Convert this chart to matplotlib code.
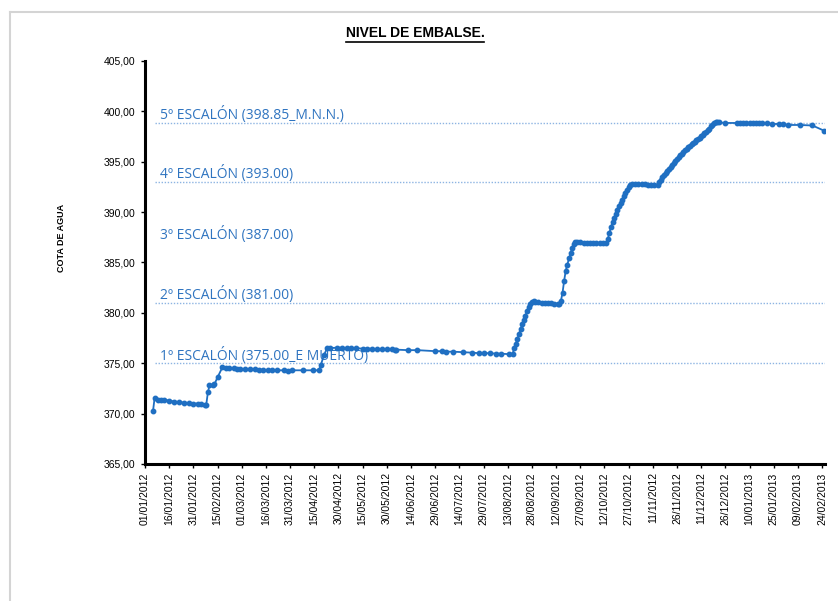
import matplotlib
matplotlib.use("Agg")
import matplotlib.pyplot as plt
from matplotlib.lines import Line2D
import datetime as dt

# ---- data ----
start_date = "2012-01-01"
day_offsets = [
    5, 6, 8, 10, 12, 15, 18, 21, 24, 27, 30, 33, 35, 37, 38,
    39, 40, 42, 43, 45, 48, 50, 52, 55, 57, 59, 62, 65, 68, 71, 73, 76, 79, 82, 86, 89, 91, 98, 104, 108,
    109, 111, 113, 115, 119, 122, 125, 128, 131, 135, 138, 141, 144, 147, 150, 153, 155, 156, 163, 169,
    180, 184, 187, 191, 197, 203, 207, 210, 214, 218, 221, 226, 228,
    229, 230, 231, 232, 233, 234, 235, 236, 237, 238, 239, 240, 241,
    242, 244, 246, 248, 250, 252, 254, 256, 257,
    258, 259, 260, 261, 262, 263, 264, 265, 266, 267,
    268, 270, 272, 274, 276, 278, 280, 282, 284, 286,
    287, 288, 289, 290, 291, 292, 293, 294, 295, 296, 297, 298, 299, 300, 301,
    302, 304, 306, 308, 310, 312, 314, 316, 318,
    319, 320, 321, 322, 323, 324, 325, 326, 327, 328, 329, 330, 331, 332, 333, 334, 335, 336,
    337, 338, 339, 340, 341, 342, 343, 344, 345, 346, 347, 348, 349, 350, 351, 352, 353, 354,
    355, 356, 360, 367, 369, 371, 373, 375, 377, 379, 381, 383, 386, 389, 393, 396, 399, 406, 414, 421,
]
levels = [
    370.3, 371.6, 371.4, 371.4, 371.35, 371.3, 371.2, 371.15, 371.1, 371.05, 371.0, 371.0, 370.95, 370.9, 370.9,
    372.1, 372.8, 372.8, 372.9, 373.6, 374.6, 374.55, 374.5, 374.5, 374.45, 374.45, 374.4, 374.4, 374.4, 374.35,
    374.35, 374.3, 374.3, 374.3, 374.3, 374.25, 374.3, 374.3, 374.3, 374.3,
    374.8, 375.8, 376.5, 376.5, 376.55, 376.55, 376.5, 376.5, 376.5, 376.45, 376.45, 376.45, 376.4, 376.4,
    376.4, 376.4, 376.35, 376.35, 376.3, 376.3,
    376.2, 376.2, 376.15, 376.15, 376.1, 376.05, 376.0, 376.0, 376.0, 375.95, 375.95, 375.9, 375.9,
    376.5, 376.9, 377.4, 377.9, 378.4, 378.9, 379.3, 379.7, 380.2, 380.6, 380.9, 381.1, 381.15,
    381.1, 381.05, 381.0, 381.0, 380.95, 380.95, 380.9, 380.9, 380.9,
    381.2, 382.0, 383.2, 384.2, 384.8, 385.4, 385.9, 386.4, 386.8, 387.0,
    387.0, 387.0, 386.95, 386.95, 386.95, 386.9, 386.9, 386.9, 386.9, 386.9,
    387.3, 387.9, 388.5, 389.0, 389.4, 389.8, 390.2, 390.6, 390.9, 391.2, 391.6, 391.9, 392.2, 392.5, 392.7,
    392.8, 392.8, 392.75, 392.75, 392.75, 392.7, 392.7, 392.7, 392.7,
    392.95, 393.2, 393.45, 393.7, 393.9, 394.1, 394.3, 394.5, 394.7, 394.9, 395.1, 395.3, 395.5, 395.65,
    395.8, 396.0, 396.15, 396.3,
    396.45, 396.6, 396.75, 396.9, 397.0, 397.15, 397.3, 397.4, 397.55, 397.7, 397.85, 398.0, 398.15, 398.3,
    398.5, 398.65, 398.8, 398.95,
    398.95, 398.9, 398.85, 398.85, 398.85, 398.85, 398.85, 398.8, 398.8, 398.8, 398.8, 398.8, 398.8, 398.75,
    398.75, 398.7, 398.65, 398.65, 398.6, 398.1,
]
tick_labels = [
    "01/01/2012", "16/01/2012", "31/01/2012", "15/02/2012", "01/03/2012", "16/03/2012", "31/03/2012",
    "15/04/2012", "30/04/2012", "15/05/2012", "30/05/2012", "14/06/2012", "29/06/2012", "14/07/2012",
    "29/07/2012", "13/08/2012", "28/08/2012", "12/09/2012", "27/09/2012", "12/10/2012", "27/10/2012",
    "11/11/2012", "26/11/2012", "11/12/2012", "26/12/2012", "10/01/2013", "25/01/2013", "09/02/2013",
    "24/02/2013",
]
step_levels = [398.85, 393.00, 387.00, 381.00, 375.00]
step_labels = ["5º ESCALÓN (398.85_M.N.N.)", "4º ESCALÓN (393.00)", "3º ESCALÓN (387.00)",
               "2º ESCALÓN (381.00)", "1º ESCALÓN (375.00_E MUERTO)"]
step_lines = [True, True, False, True, True]
y_ticks = [365, 370, 375, 380, 385, 390, 395, 400, 405]

# ---- figure ----
W, H = 838, 601
fig = plt.figure(figsize=(W / 100, H / 100), dpi=100)
narrow = ["Liberation Sans Narrow", "Liberation Sans", "DejaVu Sans"]

x0 = dt.datetime.strptime(start_date, "%Y-%m-%d")
dates = [x0 + dt.timedelta(days=d) for d in day_offsets]
tick_dates = [dt.datetime.strptime(s, "%d/%m/%Y") for s in tick_labels]

ax = fig.add_axes([145 / W, 1 - 464 / H, (825 - 145) / W, (464 - 61) / H])
ax.set_ylim(365, 405)
ax.set_xlim(x0, x0 + dt.timedelta(days=421.8))

line_color = "#1F6FC2"
for lv, lab, show in zip(step_levels, step_labels, step_lines):
    if show:
        ax.plot([x0 + dt.timedelta(days=6), x0 + dt.timedelta(days=421.5)], [lv, lv],
                linestyle=(0, (1, 1.2)), color="#8DB4E2", linewidth=1.0, zorder=1)
    ax.text(x0 + dt.timedelta(days=9), lv - 0.05, lab, fontsize=10, color="#2F74C0",
            family=["Open Sans", "DejaVu Sans"], va="bottom", ha="left", zorder=2)

ax.plot(dates, levels, color=line_color, linewidth=1.3, marker="o", markersize=3.2,
        markerfacecolor=line_color, markeredgecolor=line_color, zorder=3)

ax.set_yticks(y_ticks)
ax.set_yticklabels([f"{v:.2f}".replace(".", ",") for v in y_ticks], fontsize=7.5, family=narrow)
ax.set_xticks(tick_dates)
ax.set_xticklabels(tick_labels, rotation=90, fontsize=7.5, family=narrow)
ax.tick_params(axis="y", length=3, width=1, pad=4)
ax.tick_params(axis="x", length=3, width=1, pad=3)

for s in ["top", "right"]:
    ax.spines[s].set_visible(False)
for s in ["left", "bottom"]:
    ax.spines[s].set_linewidth(2.2)
    ax.spines[s].set_color("black")

fig.text(62 / W, 1 - 238 / H, "COTA DE AGUA", rotation=90, fontsize=6.5, fontweight="bold",
         family=narrow, ha="center", va="center")

title = fig.text(415 / W, 1 - 33 / H, "NIVEL DE EMBALSE.", fontsize=10, fontweight="bold",
                 family=narrow, ha="center", va="center")
fig.canvas.draw()
bb = title.get_window_extent().transformed(fig.transFigure.inverted())
fig.add_artist(Line2D([bb.x0, bb.x1], [bb.y0 - 1.5 / H, bb.y0 - 1.5 / H], color="black",
                      linewidth=1.2, transform=fig.transFigure))

# outer frame lines
fig.add_artist(Line2D([10 / W, 1], [1 - 12 / H, 1 - 12 / H], color="#D4D4D4", linewidth=1.5,
                      transform=fig.transFigure))
fig.add_artist(Line2D([10 / W, 10 / W], [0, 1 - 12 / H], color="#D4D4D4", linewidth=1.5,
                      transform=fig.transFigure))

fig.savefig("out.png", dpi=100)
